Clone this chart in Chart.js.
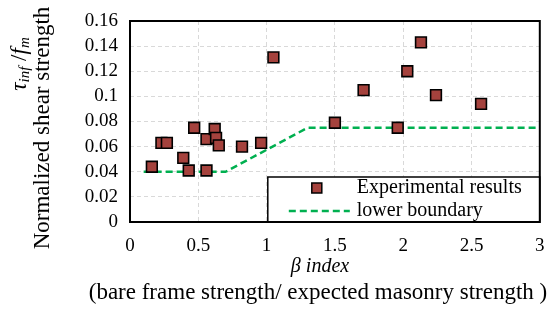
<!DOCTYPE html>
<html>
<head>
<meta charset="utf-8">
<script src="https://cdn.jsdelivr.net/npm/chart.js@4/dist/chart.umd.min.js"></script>
<style>
html,body{margin:0;padding:0;background:#fff;}
canvas{display:block;}
</style>
</head>
<body>
<canvas id="c" width="549" height="312"></canvas>
<script>
// ---- data ----
const betaIdx = [0.16, 0.23, 0.27, 0.39, 0.43, 0.47, 0.56, 0.56, 0.62, 0.63, 0.65, 0.82, 0.96, 1.05, 1.50, 1.71, 1.96, 2.03, 2.13, 2.24, 2.57];
const shearNorm = [0.044, 0.063, 0.063, 0.051, 0.041, 0.075, 0.066, 0.041, 0.074, 0.067, 0.061, 0.060, 0.063, 0.131, 0.079, 0.105, 0.075, 0.120, 0.143, 0.101, 0.094];
const boundX = [0.1, 0.7, 1.3, 3.0];
const boundY = [0.04, 0.04, 0.075, 0.075];
const xTickLabels = ['0', '0.5', '1', '1.5', '2', '2.5', '3'];
const yTickLabels = ['0', '0.02', '0.04', '0.06', '0.08', '0.1', '0.12', '0.14', '0.16'];
const seriesNames = ['Experimental results', 'lower boundary'];
const xTitle = 'β index';
const xSubtitle = '(bare frame strength/ expected masonry strength )';
const yTitle2 = 'Normalized shear strength';

const SERIF = '"Liberation Serif", "Times New Roman", serif';
const MARK_FILL = '#a5423d';
const LINE_COL = '#00b050';

const framePlugin = {
  id: 'frame',
  afterDraw(chart) {
    const ctx = chart.ctx;
    const ca = chart.chartArea;
    ctx.save();
    // legend box
    const lx = ca.right - 272, ly = ca.bottom - 45;
    ctx.fillStyle = '#fff';
    ctx.fillRect(lx, ly, ca.right - lx, ca.bottom - ly);
    ctx.strokeStyle = '#000';
    ctx.lineWidth = 1.5;
    ctx.strokeRect(lx, ly, ca.right - lx, ca.bottom - ly);
    // legend entries
    ctx.font = '20px ' + SERIF;
    ctx.fillStyle = '#000';
    ctx.textBaseline = 'middle';
    ctx.textAlign = 'left';
    const r1 = ly + 11, r2 = ly + 34;
    ctx.fillText(seriesNames[0], lx + 89, r1);
    ctx.fillText(seriesNames[1], lx + 89, r2);
    ctx.fillStyle = MARK_FILL;
    ctx.fillRect(lx + 44, r1 - 5, 10, 10);
    ctx.strokeStyle = '#000';
    ctx.lineWidth = 1.5;
    ctx.strokeRect(lx + 44, r1 - 5, 10, 10);
    ctx.strokeStyle = LINE_COL;
    ctx.lineWidth = 2.5;
    ctx.setLineDash([7, 4]);
    ctx.beginPath();
    ctx.moveTo(lx + 21, r2);
    ctx.lineTo(lx + 82, r2);
    ctx.stroke();
    ctx.setLineDash([]);
    // plot frame
    ctx.strokeStyle = '#000';
    ctx.lineWidth = 2;
    ctx.strokeRect(ca.left, ca.top, ca.right - ca.left, ca.bottom - ca.top);
    // x titles
    ctx.fillStyle = '#000';
    ctx.textAlign = 'center';
    ctx.font = 'italic 20px ' + SERIF;
    ctx.fillText(xTitle, 320, 267);
    ctx.font = '23px ' + SERIF;
    ctx.fillText(xSubtitle, 318, 293);
    // y titles (rotated)
    ctx.save();
    ctx.translate(43, 128);
    ctx.rotate(-Math.PI / 2);
    ctx.font = '23px ' + SERIF;
    ctx.textAlign = 'center';
    ctx.fillText(yTitle2, 0, 0);
    ctx.restore();
    ctx.save();
    ctx.translate(20, 64);
    ctx.rotate(-Math.PI / 2);
    const parts = [
      ['τ', 'italic 23px', 0], ['inf', 'italic 15px', 5], [' /', '23px', 0], ['f', 'italic 23px', 0], ['m', 'italic 15px', 5]
    ];
    let total = 0;
    parts.forEach(p => { ctx.font = p[1] + ' ' + SERIF; total += ctx.measureText(p[0]).width; });
    let px = -total / 2;
    ctx.textAlign = 'left';
    parts.forEach(p => {
      ctx.font = p[1] + ' ' + SERIF;
      ctx.fillText(p[0], px, p[2]);
      px += ctx.measureText(p[0]).width;
    });
    ctx.restore();
    ctx.restore();
  }
};

new Chart(document.getElementById('c'), {
  type: 'scatter',
  data: {
    datasets: [
      {
        label: seriesNames[0],
        data: betaIdx.map((x, i) => ({ x: x, y: shearNorm[i] })),
        pointStyle: 'rect',
        pointRadius: 7.6,
        pointHoverRadius: 7.6,
        backgroundColor: MARK_FILL,
        borderColor: '#000',
        borderWidth: 1.6,
        order: 0
      },
      {
        label: seriesNames[1],
        data: boundX.map((x, i) => ({ x: x, y: boundY[i] })),
        showLine: true,
        pointRadius: 0,
        borderColor: LINE_COL,
        borderWidth: 2.5,
        borderDash: [7, 4],
        borderJoinStyle: 'round',
        tension: 0,
        fill: false,
        order: 1
      }
    ]
  },
  options: {
    responsive: false,
    animation: false,
    events: [],
    layout: { padding: { left: 0, right: 4, top: 21, bottom: 0 } },
    plugins: { legend: { display: false }, tooltip: { enabled: false } },
    scales: {
      x: {
        type: 'linear', min: 0, max: 3,
        afterFit(s) { s.height = 90; s.paddingLeft = 0; s.paddingRight = 0; },
        afterBuildTicks(s) { s.ticks = xTickLabels.map(v => ({ value: parseFloat(v) })); },
        ticks: {
          autoSkip: false,
          callback: (v, i) => xTickLabels[i],
          font: { family: SERIF, size: 19 }, color: '#000', padding: 13, maxRotation: 0
        },
        grid: { color: '#d9d9d9', lineWidth: 1, drawTicks: false },
        border: { display: false, dash: [4, 3] }
      },
      y: {
        min: 0, max: 0.16,
        afterFit(s) { s.width = 130; s.paddingTop = 0; s.paddingBottom = 0; },
        afterBuildTicks(s) { s.ticks = yTickLabels.map(v => ({ value: parseFloat(v) })); },
        ticks: {
          autoSkip: false,
          callback: (v, i) => yTickLabels[i],
          font: { family: SERIF, size: 19 }, color: '#000', padding: 12
        },
        grid: { color: '#d9d9d9', lineWidth: 1, drawTicks: false },
        border: { display: false, dash: [4, 3] }
      }
    }
  },
  plugins: [framePlugin]
});
</script>
</body>
</html>
